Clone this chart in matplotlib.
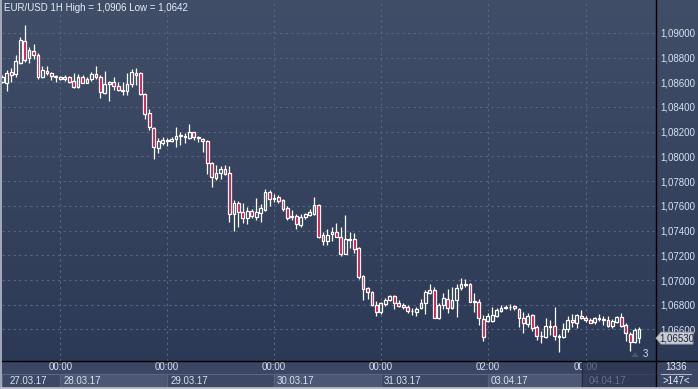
import matplotlib
matplotlib.use("Agg")
import matplotlib.pyplot as plt
from matplotlib.lines import Line2D
from matplotlib.patches import Polygon, Rectangle
import numpy as np

# EUR/USD hourly candles (bar 0 = 27.03.17 11:00)
opens = [1.08602, 1.08596, 1.08680, 1.08664, 1.08758, 1.08934, 1.08794, 1.08850, 1.08820, 1.08640,
         1.08693, 1.08672, 1.08640, 1.08640, 1.08629, 1.08640, 1.08610, 1.08564, 1.08640, 1.08596,
         1.08624, 1.08667, 1.08640, 1.08515, 1.08583, 1.08602, 1.08570, 1.08532, 1.08532, 1.08583,
         1.08677, 1.08677, 1.08505, 1.08349, 1.08230, 1.08070, 1.08111, 1.08125, 1.08127, 1.08139,
         1.08165, 1.08160, 1.08151, 1.08195, 1.08151, 1.08139, 1.08125, 1.07944, 1.07828, 1.07863,
         1.07896, 1.07863, 1.07532, 1.07621, 1.07548, 1.07499, 1.07558, 1.07507, 1.07540, 1.07567,
         1.07715, 1.07658, 1.07669, 1.07647, 1.07585, 1.07507, 1.07518, 1.07445, 1.07507, 1.07526,
         1.07534, 1.07607, 1.07364, 1.07318, 1.07370, 1.07386, 1.07346, 1.07211, 1.07326, 1.07329,
         1.07257, 1.07033, 1.06933, 1.06906, 1.06796, 1.06741, 1.06806, 1.06838, 1.06873, 1.06812,
         1.06798, 1.06784, 1.06747, 1.06739, 1.06771, 1.06812, 1.06897, 1.06919, 1.06693, 1.06798,
         1.06844, 1.06771, 1.06838, 1.06938, 1.06960, 1.06965, 1.06820, 1.06820, 1.06687, 1.06671,
         1.06671, 1.06711, 1.06752, 1.06771, 1.06779, 1.06790, 1.06766, 1.06690, 1.06644, 1.06717,
         1.06622, 1.06545, 1.06542, 1.06618, 1.06628, 1.06539, 1.06542, 1.06604, 1.06677, 1.06650,
         1.06709, 1.06695, 1.06677, 1.06658, 1.06685, 1.06677, 1.06677, 1.06630, 1.06663, 1.06698,
         1.06636, 1.06563, 1.06496, 1.06533]
highs = [1.08659, 1.08699, 1.08713, 1.08820, 1.08969, 1.09063, 1.08888, 1.08910, 1.08839, 1.08731,
         1.08731, 1.08685, 1.08659, 1.08651, 1.08659, 1.08651, 1.08677, 1.08664, 1.08659, 1.08645,
         1.08685, 1.08731, 1.08659, 1.08691, 1.08613, 1.08645, 1.08604, 1.08602, 1.08677, 1.08707,
         1.08713, 1.08685, 1.08515, 1.08381, 1.08240, 1.08147, 1.08155, 1.08147, 1.08155, 1.08236,
         1.08200, 1.08187, 1.08262, 1.08200, 1.08165, 1.08147, 1.08133, 1.07957, 1.07931, 1.07922,
         1.07931, 1.07922, 1.07647, 1.07642, 1.07621, 1.07593, 1.07575, 1.07661, 1.07613, 1.07734,
         1.07728, 1.07696, 1.07688, 1.07656, 1.07599, 1.07567, 1.07534, 1.07532, 1.07545, 1.07572,
         1.07669, 1.07615, 1.07391, 1.07413, 1.07427, 1.07464, 1.07431, 1.07526, 1.07386, 1.07383,
         1.07270, 1.07041, 1.06946, 1.06911, 1.06830, 1.06825, 1.06857, 1.06879, 1.06879, 1.06838,
         1.06812, 1.06798, 1.06771, 1.06784, 1.06844, 1.06919, 1.06965, 1.06941, 1.06817, 1.06897,
         1.06927, 1.06946, 1.06965, 1.07014, 1.07006, 1.06974, 1.06893, 1.06847, 1.06717, 1.06731,
         1.06784, 1.06776, 1.06798, 1.06798, 1.06804, 1.06798, 1.06771, 1.06739, 1.06731, 1.06723,
         1.06636, 1.06588, 1.06695, 1.06677, 1.06784, 1.06563, 1.06650, 1.06711, 1.06723, 1.06723,
         1.06758, 1.06709, 1.06695, 1.06703, 1.06723, 1.06709, 1.06709, 1.06685, 1.06709, 1.06731,
         1.06650, 1.06582, 1.06610, 1.06622]
lows = [1.08594, 1.08532, 1.08604, 1.08640, 1.08745, 1.08766, 1.08758, 1.08786, 1.08624, 1.08632,
        1.08659, 1.08618, 1.08604, 1.08618, 1.08610, 1.08592, 1.08556, 1.08556, 1.08592, 1.08592,
        1.08613, 1.08624, 1.08475, 1.08505, 1.08451, 1.08537, 1.08529, 1.08497, 1.08497, 1.08564,
        1.08578, 1.08497, 1.08305, 1.08214, 1.07977, 1.08025, 1.08092, 1.08084, 1.08119, 1.08079,
        1.08092, 1.08111, 1.08139, 1.08133, 1.08114, 1.08038, 1.07858, 1.07755, 1.07809, 1.07817,
        1.07850, 1.07472, 1.07399, 1.07427, 1.07459, 1.07453, 1.07499, 1.07486, 1.07472, 1.07558,
        1.07601, 1.07629, 1.07626, 1.07558, 1.07486, 1.07486, 1.07410, 1.07431, 1.07491, 1.07518,
        1.07526, 1.07338, 1.07283, 1.07283, 1.07318, 1.07346, 1.07197, 1.07208, 1.07257, 1.07221,
        1.07006, 1.06838, 1.06844, 1.06790, 1.06711, 1.06725, 1.06790, 1.06830, 1.06763, 1.06784,
        1.06763, 1.06731, 1.06717, 1.06711, 1.06763, 1.06725, 1.06885, 1.06690, 1.06687, 1.06766,
        1.06731, 1.06763, 1.06703, 1.06919, 1.06946, 1.06820, 1.06744, 1.06636, 1.06509, 1.06663,
        1.06663, 1.06703, 1.06744, 1.06766, 1.06758, 1.06758, 1.06622, 1.06574, 1.06622, 1.06588,
        1.06515, 1.06493, 1.06529, 1.06555, 1.06515, 1.06420, 1.06529, 1.06582, 1.06622, 1.06614,
        1.06682, 1.06663, 1.06650, 1.06644, 1.06669, 1.06636, 1.06622, 1.06614, 1.06650, 1.06622,
        1.06509, 1.06426, 1.06488, 1.06488]
closes = [1.08643, 1.08672, 1.08656, 1.08772, 1.08942, 1.08780, 1.08861, 1.08818, 1.08640, 1.08699,
          1.08677, 1.08651, 1.08651, 1.08624, 1.08640, 1.08600, 1.08564, 1.08640, 1.08596, 1.08624,
          1.08667, 1.08640, 1.08519, 1.08586, 1.08602, 1.08570, 1.08537, 1.08537, 1.08586, 1.08680,
          1.08656, 1.08505, 1.08341, 1.08236, 1.08074, 1.08125, 1.08133, 1.08133, 1.08141, 1.08165,
          1.08173, 1.08168, 1.08195, 1.08155, 1.08160, 1.08122, 1.07944, 1.07836, 1.07863, 1.07896,
          1.07855, 1.07532, 1.07621, 1.07553, 1.07499, 1.07558, 1.07518, 1.07548, 1.07580, 1.07715,
          1.07653, 1.07666, 1.07642, 1.07572, 1.07504, 1.07518, 1.07451, 1.07512, 1.07532, 1.07553,
          1.07607, 1.07350, 1.07318, 1.07364, 1.07386, 1.07350, 1.07208, 1.07329, 1.07332, 1.07249,
          1.07027, 1.06930, 1.06901, 1.06796, 1.06744, 1.06812, 1.06838, 1.06873, 1.06812, 1.06792,
          1.06779, 1.06747, 1.06752, 1.06766, 1.06812, 1.06901, 1.06919, 1.06693, 1.06798, 1.06852,
          1.06771, 1.06838, 1.06938, 1.06965, 1.06968, 1.06825, 1.06830, 1.06690, 1.06542, 1.06709,
          1.06717, 1.06758, 1.06776, 1.06784, 1.06784, 1.06771, 1.06690, 1.06650, 1.06709, 1.06610,
          1.06547, 1.06550, 1.06628, 1.06628, 1.06550, 1.06550, 1.06604, 1.06677, 1.06658, 1.06717,
          1.06690, 1.06677, 1.06655, 1.06690, 1.06695, 1.06682, 1.06628, 1.06671, 1.06698, 1.06630,
          1.06569, 1.06496, 1.06596, 1.06604]

grid_bars = [13, 37, 61, 85, 109, 131]
grid_times = ["00:00", "00:00", "00:00", "00:00", "02:00", "00:00"]
day_starts = [0, 13, 37, 61, 85, 109, 131]
day_labels = ["27.03.17", "28.03.17", "29.03.17", "30.03.17", "31.03.17", "03.04.17", "04.04.17"]
price_ticks = [1.066, 1.068, 1.070, 1.072, 1.074, 1.076, 1.078, 1.080, 1.082, 1.084, 1.086, 1.088, 1.090]
last_price = 1.06530
title = "EUR/USD 1H High = 1,0906 Low = 1,0642"
bars_total = 1336
bars_visible = 147
bars_shift = 3

W, H = 698, 389
FONT = "Liberation Sans"
TXT = "#d6e2f2"


def px(x0, y0, x1, y1):
    return [x0 / W, 1 - y1 / H, (x1 - x0) / W, (y1 - y0) / H]


fig = plt.figure(figsize=(W / 100, H / 100), dpi=100)
fig.patch.set_facecolor("#3a4663")

# gradient background
bg = fig.add_axes([0, 0, 1, 1], zorder=0)
grad = np.linspace(0, 1, 256)[:, None]
top_c = np.array([64, 78, 104]) / 255
bot_c = np.array([43, 56, 85]) / 255
img = top_c[None, None, :] * (1 - grad[..., None]) + bot_c[None, None, :] * grad[..., None]
bg.imshow(img, aspect="auto", extent=[0, 1, 0, 1])
bg.axis("off")

# main price axes
ax = fig.add_axes(px(2, 0, 655, 360.5), zorder=2)
ax.set_facecolor("none")
ax.set_xlim(-0.09, 146.57)
ax.set_ylim(1.063489, 1.092654)
for s in ax.spines.values():
    s.set_visible(False)

ax.set_xticks(grid_bars)
ax.set_yticks(price_ticks)
ax.grid(True, color="#586584", lw=0.8, ls=(0, (2, 3)))
ax.tick_params(axis="x", length=0, labelbottom=False)
ax.yaxis.tick_right()
ax.set_yticklabels([f"{v:.5f}".replace(".", ",") for v in price_ticks])
ax.tick_params(axis="y", length=0, pad=4, labelsize=7, labelcolor=TXT)
for t in ax.get_yticklabels():
    t.set_fontfamily(FONT)

o = np.array(opens)
c = np.array(closes)
hi = np.array(highs)
lo = np.array(lows)
idx = np.arange(len(o))
b_top = np.maximum(o, c)
b_bot = np.minimum(o, c)
up = c >= o

ax.vlines(idx, b_top, hi, color="white", lw=0.9, zorder=3)
ax.vlines(idx, lo, b_bot, color="white", lw=0.9, zorder=3)
hgt = np.maximum(b_top - b_bot, 0.00003)
ax.bar(idx[up], hgt[up], bottom=b_bot[up], width=0.62, facecolor="none",
       edgecolor="white", lw=0.9, zorder=4)
ax.bar(idx[~up], hgt[~up], bottom=b_bot[~up], width=0.62, facecolor="#e3063f",
       edgecolor="white", lw=0.9, zorder=4)

# bottom time / date strip
axb = fig.add_axes(px(2, 361, 655, 387), zorder=2)
axb.set_xlim(ax.get_xlim())
axb.set_ylim(387, 361)
axb.axis("off")
axb.add_patch(Rectangle((-1, 361), 150, 13, color="#3a4663", zorder=0))
ends = day_starts[1:] + [ax.get_xlim()[1]]
for i, (s, e) in enumerate(zip(day_starts, ends)):
    s0 = ax.get_xlim()[0] if i == 0 else s
    col = "#4b5775" if i % 2 else "#3c4866"
    axb.add_patch(Rectangle((s0, 374), e - s0, 13, color=col, zorder=0))
    axb.plot([s0, s0], [374, 387], color="#56627e", lw=0.8, zorder=1)
    axb.text(max(s, 1.0) + 0.7, 380.5, day_labels[i], ha="left", va="center",
             fontsize=7, color=TXT, family=FONT, zorder=2)
axb.plot(list(ax.get_xlim()), [374, 374], color="#5a6682", lw=0.8, zorder=1)
for k, lab in zip(grid_bars, grid_times):
    axb.text(k, 367.5, lab, ha="center", va="center", fontsize=7, color=TXT,
             family=FONT, zorder=2)
# current day shading
axb.add_patch(Rectangle((130.1, 361), 20, 26, color="#2a3350", alpha=0.65, zorder=3))
axb.plot([130.1, 130.1], [361, 387], color="#222a3e", lw=0.8, zorder=3)

# overlay in pixel coordinates
ov = fig.add_axes([0, 0, 1, 1], zorder=5)
ov.set_xlim(0, W)
ov.set_ylim(H, 0)
ov.axis("off")
ov.set_facecolor("none")

ov.add_artist(Line2D([655.5, 655.5], [0, H], color="black", lw=1.0))
ov.add_artist(Line2D([0, W], [360.5, 360.5], color="black", lw=1.0))
ov.add_artist(Line2D([0.5, 0.5], [0, H], color="#b9bec8", lw=1.2))
ov.add_artist(Line2D([0, W], [388, 388], color="#b9bec8", lw=2.0))
ov.add_patch(Rectangle((656, 361), 42, 26, color="#3a4663", zorder=1))

ov.text(4, 8, title, ha="left", va="center", fontsize=7, color="#e8eef8", family=FONT)

ov.text(676, 366.5, str(bars_total), ha="center", va="center", fontsize=7,
        color="#e8eef8", family=FONT)
ov.add_artist(Line2D([661, 691], [374, 374], color="#aab4c6", lw=0.8))
ov.text(676, 381, f">{bars_visible}<", ha="center", va="center", fontsize=7,
        color="#e8eef8", family=FONT)

# last price marker
y_last = H - ax.transData.transform((0, last_price))[1]
ov.add_patch(Polygon([[656, y_last], [661, y_last - 6], [693, y_last - 6],
                      [693, y_last + 6], [661, y_last + 6]], closed=True,
                     facecolor="#c8ccd4", edgecolor="#9aa0aa", lw=0.6, zorder=6))
ov.text(677, y_last, f"{last_price:.5f}".replace(".", ","), ha="center", va="center",
        fontsize=7, color="#1e2536", family=FONT, zorder=7)

# shift indicator
ov.add_patch(Polygon([[631, 357], [635, 352.5], [639, 357]], closed=True,
                     facecolor="#4c566c", edgecolor="none"))
ov.text(645, 354, str(bars_shift), ha="center", va="center", fontsize=7,
        color="#c8dcf8", family=FONT)

fig.savefig("out.png", dpi=100)
